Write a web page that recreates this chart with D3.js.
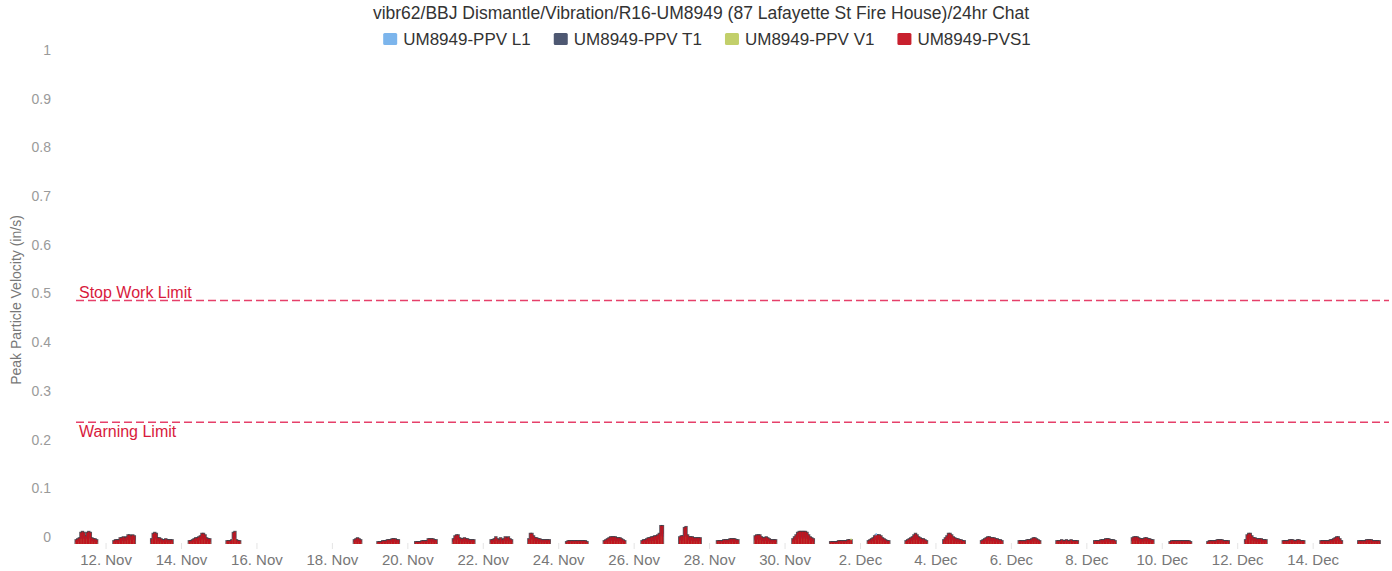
<!DOCTYPE html>
<html>
<head>
<meta charset="utf-8">
<script src="https://cdn.jsdelivr.net/npm/d3@7"></script>
<style>
  html, body { margin: 0; padding: 0; background: #fff; }
  svg { display: block; font-family: "Liberation Sans", Arial, Helvetica, sans-serif; }
</style>
</head>
<body>
<svg id="chart" width="1392" height="571"></svg>
<script>
// ---- chart text ----
const chartTitle = "vibr62/BBJ Dismantle/Vibration/R16-UM8949 (87 Lafayette St Fire House)/24hr Chat";
const yAxisTitle = "Peak Particle Velocity (in/s)";
const seriesNames = ["UM8949-PPV L1", "UM8949-PPV T1", "UM8949-PPV V1", "UM8949-PVS1"];
const seriesColors = ["#7cb5ec", "#4e5872", "#c2cf6a", "#c8202e"];

// ---- threshold lines (in/s) ----
const limitNames = ["Stop Work Limit", "Warning Limit"];
const limitValues = [0.5, 0.25];

// ---- axes ----
const yTicks = [0, 0.1, 0.2, 0.3, 0.4, 0.5, 0.6, 0.7, 0.8, 0.9, 1];
const xTickDates = ["2019-11-12", "2019-11-14", "2019-11-16", "2019-11-18", "2019-11-20", "2019-11-22",
  "2019-11-24", "2019-11-26", "2019-11-28", "2019-11-30", "2019-12-02", "2019-12-04", "2019-12-06",
  "2019-12-08", "2019-12-10", "2019-12-12", "2019-12-14"];

// ---- hourly readings (in/s), one row per monitored day, hours 05:00-18:00 ----
const dataDays = ["2019-11-11", "2019-11-12", "2019-11-13", "2019-11-14", "2019-11-15",
  "2019-11-18", "2019-11-19", "2019-11-20", "2019-11-21", "2019-11-22", "2019-11-23", "2019-11-24",
  "2019-11-25", "2019-11-26", "2019-11-27", "2019-11-28", "2019-11-29", "2019-11-30",
  "2019-12-01", "2019-12-02", "2019-12-03", "2019-12-04", "2019-12-05", "2019-12-06", "2019-12-07",
  "2019-12-08", "2019-12-09", "2019-12-10", "2019-12-11", "2019-12-12", "2019-12-13", "2019-12-14",
  "2019-12-15"];
const hours = [5, 6, 7, 8, 9, 10, 11, 12, 13, 14, 15, 16, 17, 18];

const ppvL1 = [
  [.004,.005,.006,.012,.014,.012,.009,.013,.014,.012,.006,.005,.005,.004],
  [.003,.004,.004,.004,.007,.006,.008,.006,.008,.010,.010,.009,.010,.009],
  [.005,.012,.013,.012,.006,.007,.005,.004,.004,.005,.004,.004,.004,.004],
  [.003,.003,.004,.005,.006,.007,.008,.009,.012,.012,.010,.006,.005,.005],
  [.003,.003,.003,.004,.012,.014,.004,.003,.003,0,0,0,0,0],
  [0,0,0,0,0,0,0,0,0,.004,.005,.007,.005,.004],
  [.002,.002,.002,.003,.003,.003,.004,.004,.004,.005,.006,.005,.004,.004],
  [.002,.002,.002,.002,.003,.003,.003,.003,.005,.006,.005,.005,.004,.004],
  [.005,.009,.010,.010,.006,.005,.005,.007,.005,.005,.004,.004,.004,.004],
  [.004,.004,.005,.008,.005,.004,.007,.004,.005,.008,.006,.008,.005,.004],
  [.005,.012,.011,.009,.006,.006,.005,.005,.004,.004,.004,.004,.004,.004],
  [.002,.003,.003,.003,.003,.003,.003,.003,.003,.003,.003,.003,.003,.002],
  [.003,.004,.005,.007,.008,.008,.008,.008,.006,.006,.006,.005,.004,.003],
  [.003,.004,.004,.005,.006,.006,.008,.008,.009,.009,.010,.012,.020,.021],
  [.008,.009,.009,.018,.020,.010,.008,.008,.008,.006,.006,.006,.006,.006],
  [.003,.003,.003,.003,.004,.004,.004,.004,.005,.006,.005,.005,.004,.004],
  [.009,.010,.010,.010,.008,.006,.006,.008,.006,.005,.004,.004,.004,.004],
  [.005,.008,.010,.013,.014,.014,.015,.014,.014,.013,.010,.008,.006,.005],
  [.002,.002,.002,.002,.002,.003,.003,.003,.003,.003,.003,.004,.004,.004],
  [.003,.004,.005,.007,.009,.022,.011,.010,.009,.006,.005,.004,.003,.003],
  [.003,.004,.005,.007,.008,.010,.012,.010,.008,.006,.005,.005,.004,.003],
  [.004,.006,.009,.012,.012,.010,.008,.006,.005,.005,.004,.004,.003,.003],
  [.003,.004,.005,.006,.008,.008,.006,.006,.006,.005,.005,.004,.004,.003],
  [.003,.003,.003,.003,.003,.004,.004,.004,.005,.007,.007,.005,.004,.003],
  [.003,.003,.003,.004,.003,.003,.004,.003,.003,.004,.003,.003,.003,.003],
  [.003,.003,.003,.003,.004,.004,.004,.005,.006,.005,.004,.004,.004,.003],
  [.006,.008,.008,.008,.006,.005,.005,.005,.006,.007,.005,.005,.004,.004],
  [.002,.003,.003,.003,.003,.003,.003,.003,.003,.003,.003,.003,.003,.002],
  [.002,.003,.003,.003,.003,.003,.004,.004,.004,.004,.003,.003,.003,.003],
  [.004,.010,.012,.012,.009,.006,.006,.005,.005,.005,.005,.004,.004,.004],
  [.003,.003,.003,.003,.004,.004,.004,.003,.003,.004,.004,.003,.003,.003],
  [.003,.003,.003,.003,.003,.003,.004,.004,.005,.007,.008,.008,.005,.003],
  [.003,.003,.003,.003,.003,.004,.004,.004,.004,.003,.003,.003,.003,.003]
];

const ppvT1 = [
  [.006,.008,.010,.020,.022,.020,.014,.021,.022,.020,.010,.008,.008,.006],
  [.005,.006,.007,.007,.010,.010,.012,.010,.012,.016,.015,.014,.016,.014],
  [.008,.019,.020,.018,.010,.010,.008,.007,.007,.008,.007,.007,.006,.006],
  [.005,.005,.007,.008,.010,.010,.012,.014,.018,.019,.016,.010,.008,.008],
  [.005,.005,.005,.007,.020,.022,.007,.005,.005,0,0,0,0,0],
  [0,0,0,0,0,0,0,0,0,.007,.008,.010,.008,.007],
  [.003,.003,.003,.005,.005,.005,.007,.007,.007,.008,.008,.008,.007,.006],
  [.003,.003,.003,.003,.005,.005,.005,.005,.008,.008,.009,.008,.007,.006],
  [.008,.014,.016,.016,.010,.008,.008,.010,.008,.008,.007,.007,.006,.006],
  [.006,.007,.008,.012,.008,.007,.010,.007,.008,.012,.010,.012,.008,.007],
  [.008,.019,.018,.014,.010,.010,.008,.008,.007,.007,.006,.007,.006,.006],
  [.003,.005,.005,.005,.005,.005,.005,.005,.005,.005,.005,.005,.005,.003],
  [.005,.007,.008,.010,.012,.012,.012,.012,.010,.010,.010,.008,.007,.005],
  [.005,.006,.007,.008,.010,.010,.012,.012,.014,.014,.016,.018,.034,.033],
  [.012,.014,.014,.030,.031,.016,.012,.012,.012,.010,.010,.010,.010,.010],
  [.005,.005,.005,.005,.007,.007,.007,.007,.008,.008,.008,.008,.007,.006],
  [.014,.016,.016,.016,.012,.010,.010,.012,.010,.008,.007,.007,.006,.006],
  [.008,.012,.016,.020,.022,.022,.023,.022,.022,.020,.016,.012,.010,.008],
  [.003,.003,.003,.003,.003,.005,.005,.005,.005,.005,.005,.006,.006,.005],
  [.005,.007,.008,.010,.014,.016,.016,.016,.014,.010,.008,.007,.005,.005],
  [.005,.007,.008,.010,.012,.016,.019,.016,.012,.010,.008,.008,.007,.005],
  [.007,.010,.014,.019,.019,.016,.012,.010,.008,.008,.007,.007,.005,.005],
  [.005,.007,.008,.010,.012,.012,.010,.010,.010,.008,.008,.007,.007,.005],
  [.005,.005,.005,.005,.005,.007,.007,.007,.008,.010,.010,.008,.007,.005],
  [.005,.005,.005,.007,.005,.005,.007,.005,.005,.007,.005,.005,.005,.005],
  [.005,.005,.005,.005,.007,.007,.007,.008,.008,.008,.007,.007,.007,.005],
  [.010,.012,.012,.012,.010,.008,.008,.008,.010,.010,.008,.008,.007,.007],
  [.003,.005,.005,.005,.005,.005,.005,.005,.005,.005,.005,.005,.005,.003],
  [.003,.005,.005,.005,.005,.005,.007,.007,.007,.007,.005,.005,.005,.005],
  [.007,.016,.019,.019,.014,.010,.010,.008,.008,.008,.008,.007,.007,.007],
  [.005,.005,.005,.005,.007,.007,.007,.005,.005,.007,.007,.005,.005,.005],
  [.005,.005,.005,.005,.005,.005,.007,.007,.008,.010,.012,.012,.008,.005],
  [.005,.005,.005,.005,.005,.007,.007,.007,.007,.005,.005,.005,.005,.005]
];

const ppvV1 = [
  [.003,.004,.005,.010,.011,.010,.007,.010,.011,.009,.005,.004,.004,.003],
  [.003,.003,.003,.003,.005,.005,.006,.005,.006,.008,.008,.007,.008,.007],
  [.004,.009,.010,.009,.005,.005,.004,.003,.003,.004,.003,.003,.003,.003],
  [.003,.003,.003,.004,.005,.005,.006,.007,.009,.009,.008,.005,.004,.004],
  [.003,.003,.003,.003,.010,.011,.003,.003,.003,0,0,0,0,0],
  [0,0,0,0,0,0,0,0,0,.003,.004,.005,.004,.003],
  [.002,.002,.002,.003,.003,.003,.003,.003,.003,.004,.004,.004,.003,.003],
  [.002,.002,.002,.002,.003,.003,.003,.003,.004,.004,.004,.004,.003,.003],
  [.004,.007,.008,.008,.005,.004,.004,.005,.004,.004,.003,.003,.003,.003],
  [.003,.003,.004,.006,.004,.003,.005,.003,.004,.006,.005,.006,.004,.003],
  [.004,.009,.009,.007,.005,.005,.004,.004,.003,.003,.003,.003,.003,.003],
  [.002,.003,.003,.003,.003,.003,.003,.003,.003,.003,.003,.003,.003,.002],
  [.003,.003,.004,.005,.006,.006,.006,.006,.005,.005,.005,.004,.003,.003],
  [.003,.003,.003,.004,.005,.005,.006,.006,.007,.007,.008,.009,.016,.015],
  [.006,.007,.007,.014,.015,.008,.006,.006,.006,.005,.005,.005,.005,.005],
  [.003,.003,.003,.003,.003,.003,.003,.003,.004,.004,.004,.004,.003,.003],
  [.007,.008,.008,.008,.006,.005,.005,.006,.005,.004,.003,.003,.003,.003],
  [.004,.006,.008,.010,.011,.011,.011,.011,.011,.010,.008,.006,.005,.004],
  [.002,.002,.002,.002,.002,.003,.003,.003,.003,.003,.003,.004,.005,.011],
  [.003,.003,.004,.005,.007,.008,.008,.008,.007,.005,.004,.003,.003,.003],
  [.003,.003,.004,.005,.006,.008,.009,.008,.006,.005,.004,.004,.003,.003],
  [.003,.005,.007,.009,.009,.008,.006,.005,.004,.004,.003,.003,.003,.003],
  [.003,.003,.004,.005,.006,.006,.005,.005,.005,.004,.004,.003,.003,.003],
  [.003,.003,.003,.003,.003,.003,.003,.003,.004,.005,.005,.004,.003,.003],
  [.003,.003,.003,.003,.003,.003,.003,.003,.003,.003,.003,.003,.003,.003],
  [.003,.003,.003,.003,.003,.003,.003,.004,.004,.004,.003,.003,.003,.003],
  [.005,.006,.006,.006,.005,.004,.004,.004,.005,.005,.004,.004,.003,.003],
  [.002,.003,.003,.003,.003,.003,.003,.003,.003,.003,.003,.003,.003,.002],
  [.002,.003,.003,.003,.003,.003,.003,.003,.003,.003,.003,.003,.003,.003],
  [.003,.008,.009,.009,.007,.005,.005,.004,.004,.004,.004,.003,.003,.003],
  [.003,.003,.003,.003,.003,.003,.003,.003,.003,.003,.003,.003,.003,.003],
  [.003,.003,.003,.003,.003,.003,.003,.003,.004,.005,.006,.006,.004,.003],
  [.003,.003,.003,.003,.003,.003,.003,.003,.003,.003,.003,.003,.003,.003]
];

const pvs1 = [
  [.008,.010,.012,.023,.025,.023,.016,.023,.025,.023,.012,.010,.010,.008],
  [.006,.008,.008,.008,.012,.012,.014,.012,.014,.018,.018,.016,.018,.016],
  [.010,.021,.023,.021,.012,.012,.010,.008,.008,.010,.008,.008,.008,.008],
  [.006,.006,.008,.010,.012,.012,.014,.016,.021,.021,.018,.012,.010,.010],
  [.006,.006,.006,.008,.023,.025,.008,.006,.006,0,0,0,0,0],
  [0,0,0,0,0,0,0,0,0,.008,.010,.012,.010,.008],
  [.004,.004,.004,.006,.006,.006,.008,.008,.008,.010,.010,.010,.008,.008],
  [.004,.004,.004,.004,.006,.006,.006,.006,.010,.010,.010,.010,.008,.008],
  [.010,.016,.018,.018,.012,.010,.010,.012,.010,.010,.008,.008,.008,.008],
  [.008,.008,.010,.014,.010,.008,.012,.008,.010,.014,.012,.014,.010,.008],
  [.010,.021,.021,.016,.012,.012,.010,.010,.008,.008,.008,.008,.008,.008],
  [.004,.006,.006,.006,.006,.006,.006,.006,.006,.006,.006,.006,.006,.004],
  [.006,.008,.010,.012,.014,.014,.014,.014,.012,.012,.012,.010,.008,.006],
  [.006,.008,.008,.010,.012,.012,.014,.014,.016,.016,.018,.021,.037,.037],
  [.014,.016,.016,.033,.035,.018,.014,.014,.014,.012,.012,.012,.012,.012],
  [.006,.006,.006,.006,.008,.008,.008,.008,.010,.010,.010,.010,.008,.008],
  [.016,.018,.018,.018,.014,.012,.012,.014,.012,.010,.008,.008,.008,.008],
  [.010,.014,.018,.023,.025,.025,.025,.025,.025,.023,.018,.014,.012,.010],
  [.004,.004,.004,.004,.004,.006,.006,.006,.006,.006,.006,.008,.008,.008],
  [.006,.008,.010,.012,.016,.018,.018,.018,.016,.012,.010,.008,.006,.006],
  [.006,.008,.010,.012,.014,.018,.021,.018,.014,.012,.010,.010,.008,.006],
  [.008,.012,.016,.021,.021,.018,.014,.012,.010,.010,.008,.008,.006,.006],
  [.006,.008,.010,.012,.014,.014,.012,.012,.012,.010,.010,.008,.008,.006],
  [.006,.006,.006,.006,.006,.008,.008,.008,.010,.012,.012,.010,.008,.006],
  [.006,.006,.006,.008,.006,.006,.008,.006,.006,.008,.006,.006,.006,.006],
  [.006,.006,.006,.006,.008,.008,.008,.010,.010,.010,.008,.008,.008,.006],
  [.012,.014,.014,.014,.012,.010,.010,.010,.012,.012,.010,.010,.008,.008],
  [.004,.006,.006,.006,.006,.006,.006,.006,.006,.006,.006,.006,.006,.004],
  [.004,.006,.006,.006,.006,.006,.008,.008,.008,.008,.006,.006,.006,.006],
  [.008,.018,.021,.021,.016,.012,.012,.010,.010,.010,.010,.008,.008,.008],
  [.006,.006,.006,.006,.008,.008,.008,.006,.006,.008,.008,.006,.006,.006],
  [.006,.006,.006,.006,.006,.006,.008,.008,.010,.012,.014,.014,.010,.006],
  [.006,.006,.006,.006,.006,.008,.008,.008,.008,.006,.006,.006,.006,.006]
];

// ---- build ----
const svg = d3.select("#chart");

const parseDay = d3.utcParse("%Y-%m-%d");
const x = d3.scaleUtc()
  .domain([new Date(Date.UTC(2019, 10, 11, 2, 20)), new Date(Date.UTC(2019, 11, 16, 0, 15))])
  .range([72, 1389]);
const y = d3.scaleLinear().domain([0, 1]).range([544, 57]);

const allSeries = [ppvL1, ppvT1, ppvV1, pvs1];
const records = [];
dataDays.forEach((ds, di) => {
  const day = parseDay(ds);
  hours.forEach((h, hi) => {
    const t = d3.utcHour.offset(day, h);
    records.push({
      t0: d3.utcMinute.offset(t, -30),
      t1: d3.utcMinute.offset(t, 30),
      v: allSeries.map(s => s[di][hi])
    });
  });
});

// title
svg.append("text")
  .attr("x", 701).attr("y", 19)
  .attr("text-anchor", "middle")
  .attr("fill", "#333")
  .style("font-size", "17.5px")
  .text(chartTitle);

// legend
const legend = svg.append("g");
let lx = 0;
seriesNames.forEach((name, i) => {
  const g = legend.append("g");
  g.append("rect").attr("x", 0).attr("y", -6).attr("width", 14).attr("height", 12)
    .attr("rx", 1.5).attr("fill", seriesColors[i]);
  const t = g.append("text").attr("x", 20).attr("y", 6)
    .attr("fill", "#333").style("font-size", "17px").text(name);
  const w = 20 + t.node().getComputedTextLength();
  g.attr("transform", `translate(${lx},0)`);
  lx += w + 23;
});
const legendWidth = lx - 23;
legend.attr("transform", `translate(${707 - legendWidth / 2},39)`);

// y axis labels
svg.append("g").selectAll("text").data(yTicks).join("text")
  .attr("x", 51).attr("y", d => y(d) - 7).attr("dy", "0.35em")
  .attr("text-anchor", "end").attr("fill", "#9a9a9a")
  .style("font-size", "14px")
  .text(d => d3.format("")(d));

// y axis title
svg.append("text")
  .attr("transform", "translate(21,300) rotate(-90)")
  .attr("text-anchor", "middle").attr("fill", "#777")
  .style("font-size", "14px")
  .text(yAxisTitle);

// x axis ticks and labels
const xTicks = xTickDates.map(parseDay);
const fmt = d3.utcFormat("%-d. %b");
svg.append("g").selectAll("line").data(xTicks).join("line")
  .attr("x1", d => x(d)).attr("x2", d => x(d))
  .attr("y1", 543).attr("y2", 549)
  .attr("stroke", "#e4e4e4").attr("stroke-width", 1);
svg.append("g").selectAll("text").data(xTicks).join("text")
  .attr("x", d => x(d)).attr("y", 565)
  .attr("text-anchor", "middle").attr("fill", "#777")
  .style("font-size", "15px")
  .text(d => fmt(d));

// threshold lines
const limitColor = "#e6406a";
limitValues.forEach((v, i) => {
  svg.append("line")
    .attr("x1", x.range()[0] + 4).attr("x2", x.range()[1])
    .attr("y1", y(v)).attr("y2", y(v))
    .attr("stroke", limitColor).attr("stroke-width", 1.4)
    .attr("stroke-dasharray", "8,4");
  svg.append("text")
    .attr("x", 79).attr("y", i === 0 ? y(v) - 3 : y(v) + 15)
    .attr("fill", "#d81a3c").style("font-size", "16px")
    .text(limitNames[i]);
});

// columns
const bars = svg.append("g");
const pvsRecs = records.filter(r => r.v[3] > 0);
// outline behind the vector-sum columns
bars.append("g").selectAll("rect").data(pvsRecs).join("rect")
  .attr("x", d => x(d.t0) - 0.9)
  .attr("width", d => x(d.t1) - x(d.t0) + 1.8)
  .attr("y", d => y(d.v[3]) - 1)
  .attr("height", d => y(0) - y(d.v[3]) + 1)
  .attr("fill", "#3e3540").attr("opacity", 0.85);
// component series
[0, 1, 2].forEach(si => {
  bars.append("g").selectAll("rect").data(records.filter(r => r.v[si] > 0)).join("rect")
    .attr("x", d => x(d.t0))
    .attr("width", d => x(d.t1) - x(d.t0))
    .attr("y", d => y(d.v[si]))
    .attr("height", d => y(0) - y(d.v[si]))
    .attr("fill", seriesColors[si]);
});
// vector sum
bars.append("g").selectAll("rect").data(pvsRecs).join("rect")
  .attr("x", d => x(d.t0))
  .attr("width", d => x(d.t1) - x(d.t0) + 0.1)
  .attr("y", d => y(d.v[3]))
  .attr("height", d => y(0) - y(d.v[3]))
  .attr("fill", "#c0141f");
</script>
</body>
</html>
